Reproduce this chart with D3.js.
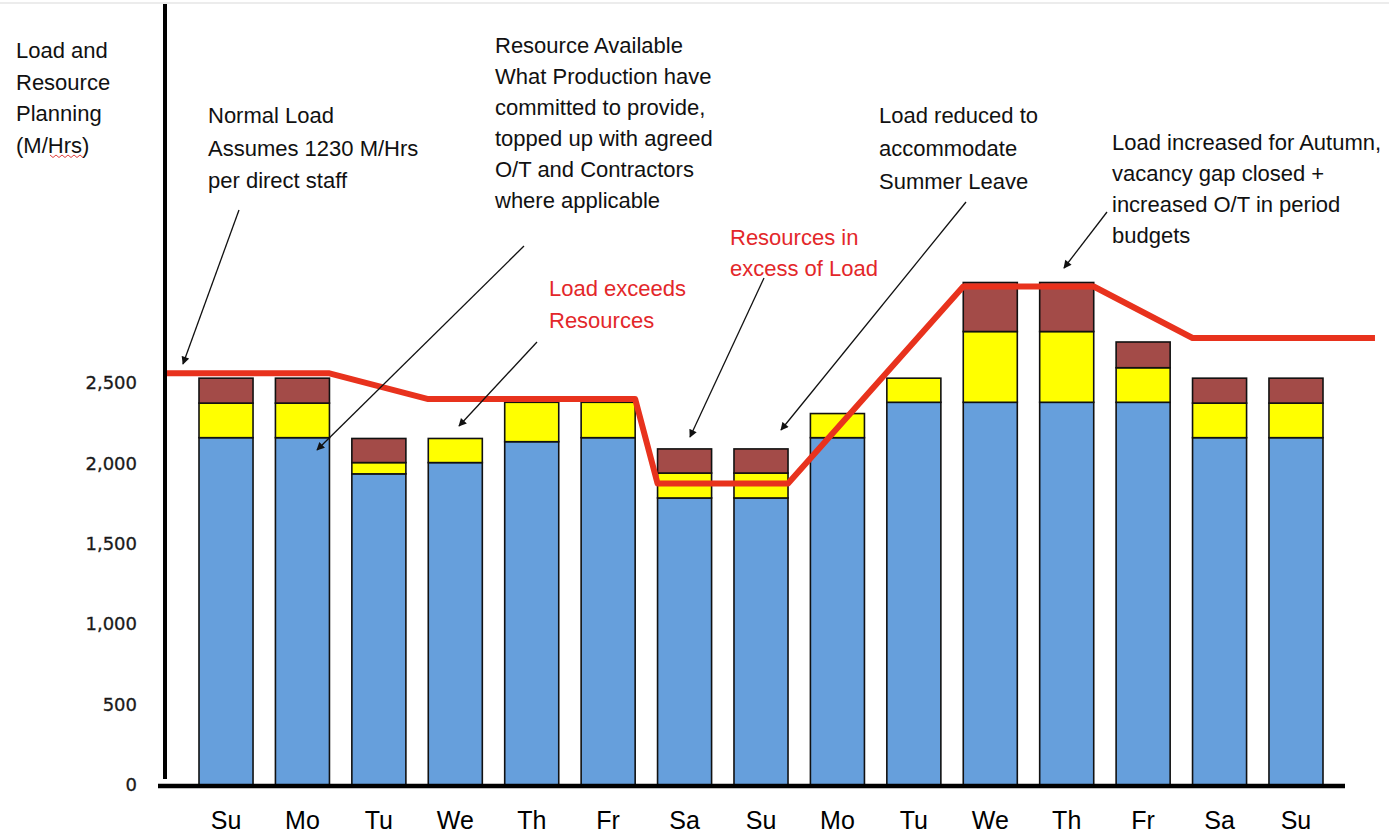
<!DOCTYPE html>
<html>
<head>
<meta charset="utf-8">
<script src="https://cdn.jsdelivr.net/npm/d3@7"></script>
<style>
  html, body { margin: 0; padding: 0; background: #ffffff; }
  svg { display: block; }
</style>
</head>
<body>
<svg id="chart" width="1389" height="834"></svg>
<script>
// Period days along the planning horizon
const days = ["Su", "Mo", "Tu", "We", "Th", "Fr", "Sa", "Su", "Mo", "Tu", "We", "Th", "Fr", "Sa", "Su"];

// Resource stacks (M/Hrs)
const committed   = [2160, 2160, 1935, 2005, 2135, 2160, 1785, 1785, 2160, 2380, 2380, 2380, 2380, 2160, 2160];
const overtime    = [215, 215, 70, 150, 245, 220, 155, 155, 150, 150, 440, 440, 215, 215, 215];
const contractors = [155, 155, 150, 0, 0, 0, 150, 150, 0, 0, 305, 305, 160, 155, 155];

// Planned load level for each day (null = day spent moving between levels)
const loadLevel = [2560, 2560, null, 2400, 2400, 2400, 1875, 1875, null, null, 3100, 3100, null, 2780, 2780];

// Value axis ticks
const yTicks = [0, 500, 1000, 1500, 2000, 2500];

const seriesKeys = ["committed", "overtime", "contractors"];
const seriesColors = { committed: "#669fdc", overtime: "#ffff00", contractors: "#a34b48" };

const rows = days.map((d, i) => ({
  idx: i, day: d,
  committed: committed[i], overtime: overtime[i], contractors: contractors[i]
}));

const svg = d3.select("#chart");
const font = "'Liberation Sans', Arial, sans-serif";

const axisX = 165, baseY = 785;

const x = d3.scaleBand()
  .domain(d3.range(days.length))
  .range([199, 1323])
  .paddingInner(0.293)
  .paddingOuter(0);

const y = d3.scaleLinear().domain([0, 2500]).range([baseY, 383]);

// faint frame line along the top
svg.append("line")
  .attr("x1", 0).attr("x2", 1389).attr("y1", 3).attr("y2", 3)
  .attr("stroke", "#ececec").attr("stroke-width", 2);

// stacked bars
const stacked = d3.stack().keys(seriesKeys)(rows);
const layers = svg.append("g").selectAll("g")
  .data(stacked)
  .join("g")
  .attr("fill", d => seriesColors[d.key]);

layers.selectAll("rect")
  .data(d => d.filter(s => s[1] - s[0] > 0))
  .join("rect")
  .attr("x", d => x(d.data.idx))
  .attr("width", x.bandwidth())
  .attr("y", d => y(d[1]))
  .attr("height", d => y(d[0]) - y(d[1]))
  .attr("stroke", "#111")
  .attr("stroke-width", 1.6);

// load line: flat across each planned day, sloping between levels
const step = x.step();
const linePts = [];
const firstIdx = loadLevel.findIndex(v => v != null);
linePts.push([x(firstIdx) - 0.44 * step, loadLevel[firstIdx]]);
loadLevel.forEach((v, i) => {
  if (v == null) return;
  linePts.push([x(i), v]);
  linePts.push([x(i) + x.bandwidth(), v]);
});
const lastIdx = loadLevel.length - 1 - [...loadLevel].reverse().findIndex(v => v != null);
linePts.push([x(lastIdx) + x.bandwidth() + 0.68 * step, loadLevel[lastIdx]]);

svg.append("path")
  .datum(linePts)
  .attr("fill", "none")
  .attr("stroke", "#e8321d")
  .attr("stroke-width", 6)
  .attr("stroke-linejoin", "round")
  .attr("d", d3.line().x(d => d[0]).y(d => y(d[1])));

// axes
const yAxis = svg.append("g")
  .attr("transform", `translate(${axisX},0)`)
  .call(d3.axisLeft(y).tickValues(yTicks).tickSize(0).tickPadding(28).tickFormat(d3.format(",")));
yAxis.select(".domain").remove();
yAxis.selectAll("text")
  .attr("font-family", "'DejaVu Sans', Verdana, sans-serif")
  .attr("font-size", 18)
  .attr("fill", "#1a1a1a")
  .attr("stroke", "#1a1a1a")
  .attr("stroke-width", 0.3);

const xAxis = svg.append("g")
  .attr("transform", `translate(0,${baseY + 1})`)
  .call(d3.axisBottom(x).tickSize(0).tickPadding(43).tickFormat(i => days[i]));
xAxis.select(".domain").remove();
xAxis.selectAll("text")
  .attr("dy", 0)
  .attr("font-family", font)
  .attr("font-size", 25)
  .attr("fill", "#000");

svg.append("line")
  .attr("x1", axisX).attr("x2", axisX).attr("y1", 4).attr("y2", 779)
  .attr("stroke", "#000").attr("stroke-width", 4);
svg.append("line")
  .attr("x1", 158).attr("x2", 1345).attr("y1", baseY + 1).attr("y2", baseY + 1)
  .attr("stroke", "#000").attr("stroke-width", 4.5);

// text blocks
const notes = [
  { x: 16,   y: 50,  lh: 31.6, color: "#111", lines: ["Load and", "Resource", "Planning", "(M/Hrs)"] },
  { x: 208,  y: 115, lh: 32.5, color: "#111", lines: ["Normal Load", "Assumes 1230 M/Hrs", "per direct staff"] },
  { x: 495,  y: 45,  lh: 31.0, color: "#111", lines: ["Resource Available", "What Production have", "committed to provide,", "topped up with agreed", "O/T and Contractors", "where applicable"] },
  { x: 879,  y: 115, lh: 33.0, color: "#111", lines: ["Load reduced to", "accommodate", "Summer Leave"] },
  { x: 1112, y: 142, lh: 31.0, color: "#111", lines: ["Load increased for Autumn,", "vacancy gap closed +", "increased O/T in period", "budgets"] },
  { x: 549,  y: 288, lh: 32.0, color: "#e3272a", lines: ["Load exceeds", "Resources"] },
  { x: 730,  y: 237, lh: 30.5, color: "#e3272a", lines: ["Resources in", "excess of Load"] }
];

notes.forEach(n => {
  const t = svg.append("text")
    .attr("font-family", font)
    .attr("font-size", 22)
    .attr("fill", n.color);
  n.lines.forEach((line, i) => {
    t.append("tspan")
      .attr("x", n.x)
      .attr("y", n.y + i * n.lh + 8)
      .text(line);
  });
});

// spell-check squiggle under "Hrs"
const squiggle = d3.range(0, 12).map(i => [50 + i * 3, 156 + (i % 2 ? 1.5 : -1)]);
svg.append("path")
  .attr("d", d3.line()(squiggle))
  .attr("fill", "none")
  .attr("stroke", "#e04040")
  .attr("stroke-width", 1);

// pointer arrows
const arrows = [
  { from: [239, 210], to: [183, 364] },
  { from: [524, 246], to: [317, 450] },
  { from: [537, 342], to: [459, 426] },
  { from: [764, 278], to: [690, 437] },
  { from: [966, 202], to: [781, 430] },
  { from: [1107, 212], to: [1064, 268] }
];

svg.append("defs").append("marker")
  .attr("id", "head")
  .attr("viewBox", "0 0 10 10")
  .attr("refX", 9).attr("refY", 5)
  .attr("markerWidth", 9).attr("markerHeight", 8)
  .attr("markerUnits", "userSpaceOnUse")
  .attr("orient", "auto")
  .append("path")
  .attr("d", "M0,0 L10,5 L0,10 Z")
  .attr("fill", "#111");

svg.append("g").selectAll("line")
  .data(arrows)
  .join("line")
  .attr("x1", d => d.from[0]).attr("y1", d => d.from[1])
  .attr("x2", d => d.to[0]).attr("y2", d => d.to[1])
  .attr("stroke", "#111")
  .attr("stroke-width", 1.3)
  .attr("marker-end", "url(#head)");
</script>
</body>
</html>
